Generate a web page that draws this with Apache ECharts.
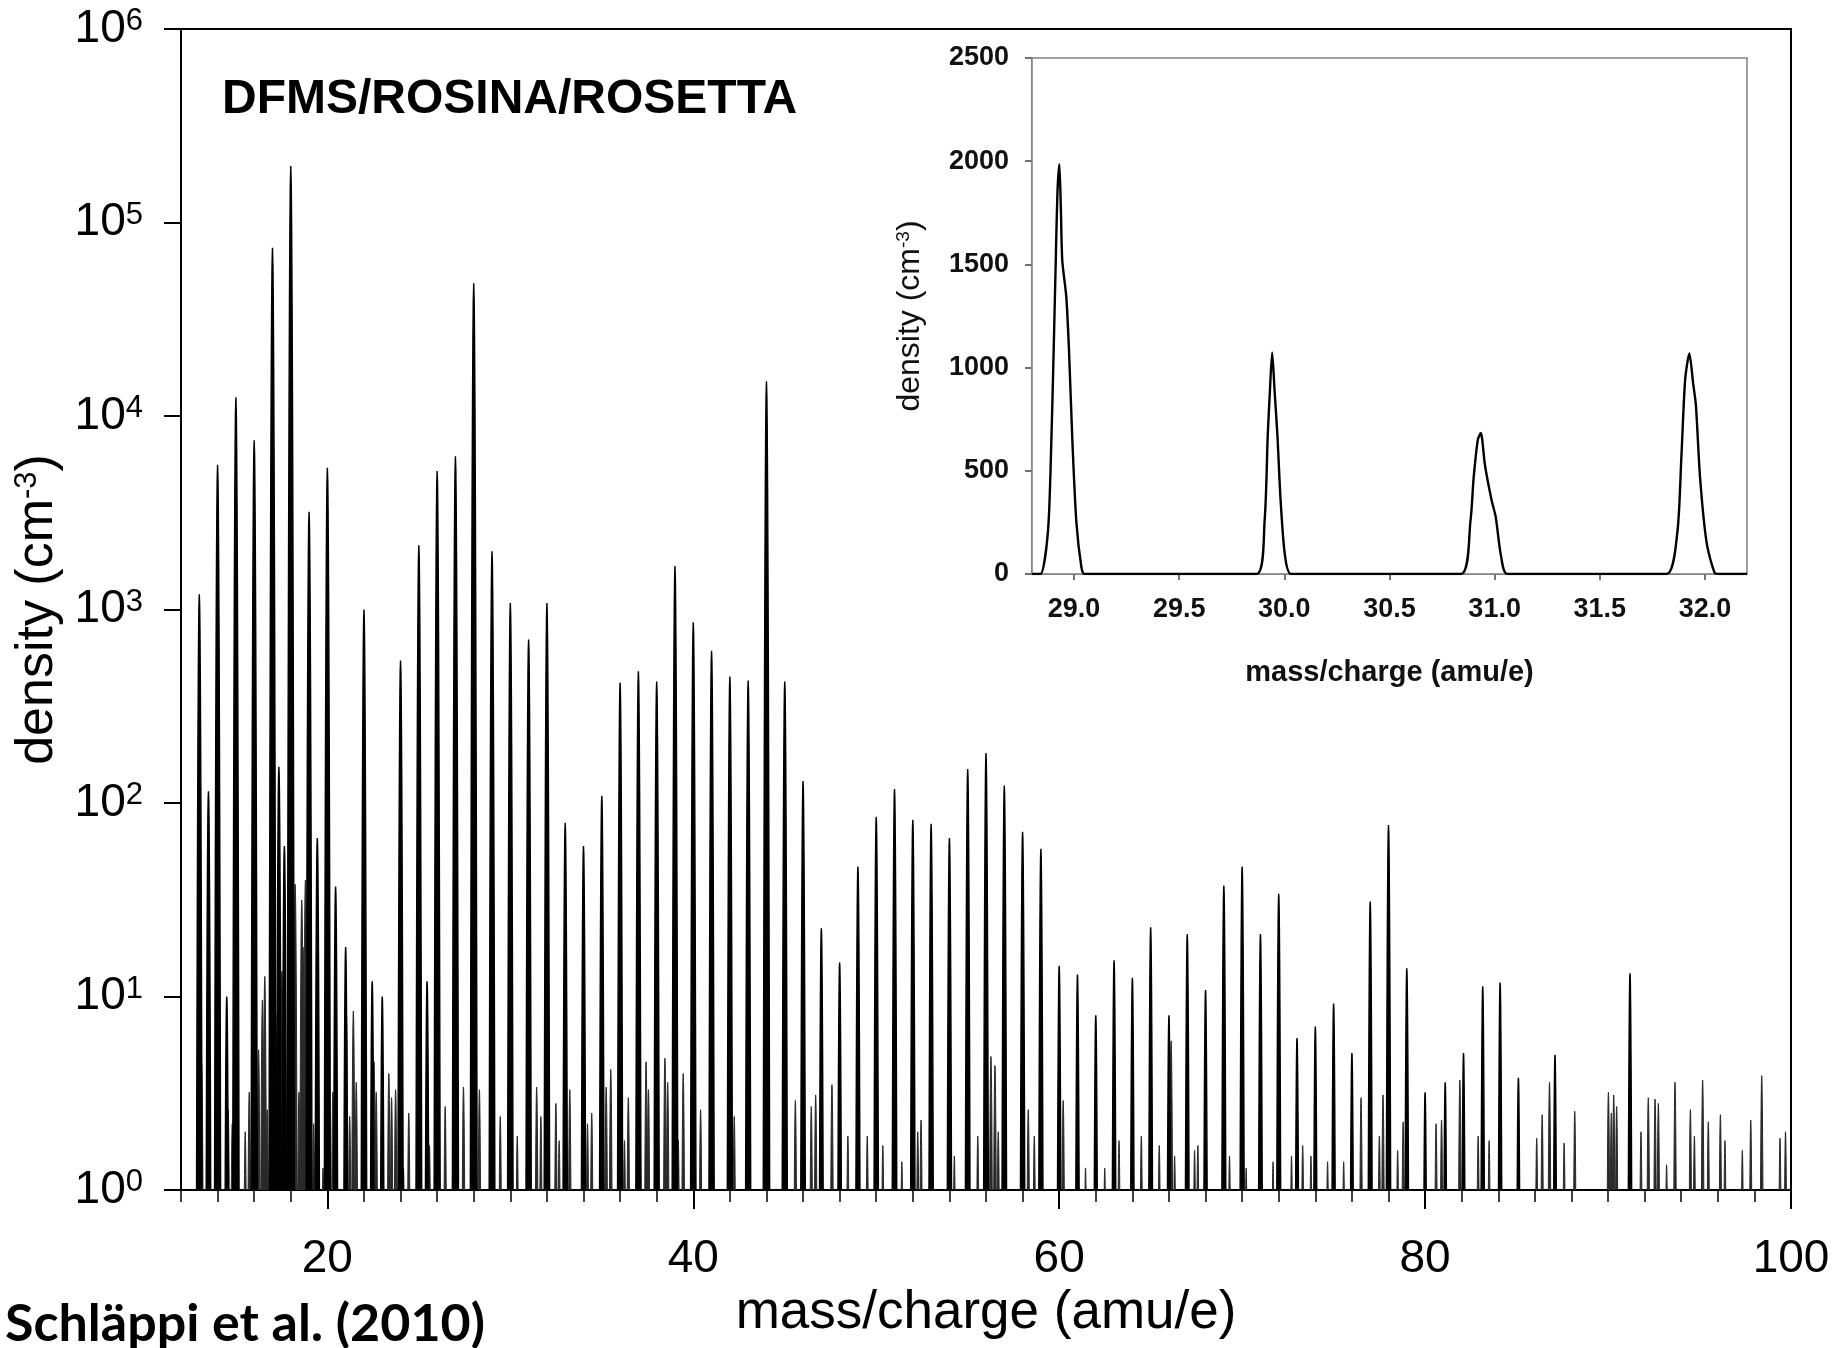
<!DOCTYPE html>
<html><head><meta charset="utf-8">
<script src="https://cdn.jsdelivr.net/npm/echarts@6/dist/echarts.min.js"></script>
<style>html,body{margin:0;padding:0;background:#fff}#c{width:1835px;height:1348px}</style>
</head><body><div id="c"></div>
<script>
// ---- main spectrum: principal peaks (mass/charge, density cm^-3) ----
const peakMass = [13, 13.5, 14, 14.5, 15, 16, 17, 17.35, 17.65, 18, 19, 19.45, 20, 20.45, 21, 22, 22.45, 23, 24, 25, 25.45, 26, 27, 28, 29, 30, 31, 32, 33, 34, 35, 36, 37, 38, 39, 40, 41, 42, 43, 44, 45, 46, 47, 48, 49, 50, 51, 52, 53, 54, 55, 56, 57, 58, 59, 60, 61, 62, 63, 64, 65, 66, 67, 68, 69, 70, 71, 72, 73, 74, 75, 76, 77, 78, 79, 80, 81.1, 82.1, 83.15, 84.1, 85.1, 87.1, 91.2];
const peakDensity = [1200, 115, 5600, 10, 12500, 7500, 74000, 154, 60, 196000, 3200, 66, 5400, 37, 18, 1000, 12, 10, 545, 2150, 12, 5200, 6200, 48500, 2000, 1080, 700, 1080, 79, 60, 109, 420, 480, 425, 1680, 860, 612, 450, 430, 15100, 425, 130, 22.5, 15, 47, 85, 118, 82, 78, 66, 150, 181, 123, 71, 58, 14.4, 13, 8, 15.4, 12.5, 22.8, 8, 21, 10.8, 37.5, 47, 21, 34, 6.1, 7.0, 9.2, 5.1, 31, 77, 14, 3.2, 3.6, 5.1, 11.3, 11.8, 3.8, 5.0, 13.2];

// ---- main spectrum: minor / background peaks ----
const minorMass = [13.13, 14.09, 14.58, 14.8, 15.51, 15.73, 16.09, 16.24, 16.45, 16.58, 16.71, 17.18, 17.52, 18.24, 18.45, 18.6, 18.67, 18.8, 19.25, 19.76, 20.3, 21.04, 21.22, 21.42, 21.58, 22.55, 22.67, 23.36, 23.51, 23.73, 24.16, 24.45, 25.58, 26.44, 27.44, 28.31, 29.45, 30.38, 31.44, 31.67, 32.49, 32.67, 33.25, 34.22, 34.45, 35.24, 35.49, 36.24, 36.45, 37.09, 37.42, 37.55, 38.45, 38.6, 39.18, 39.45, 40.4, 42.24, 45.58, 46.45, 46.69, 47.58, 48.45, 49.51, 50.36, 51.4, 52.27, 52.45, 54.27, 55.55, 56.27, 56.49, 56.67, 58.31, 58.64, 60.22, 61.44, 62.49, 63.27, 64.49, 65.47, 66.12, 66.31, 67.4, 67.58, 69.31, 70.22, 71.69, 72.7, 73.31, 73.76, 74.67, 75.55, 76.5, 77.5, 77.7, 78.5, 78.8, 80.6, 80.9, 81.9, 82.9, 83.5, 86.1, 86.4, 86.8, 87.6, 88.18, 90.02, 90.18, 90.31, 90.47, 91.8, 92.2, 92.57, 92.75, 93.2, 93.66, 94.5, 94.72, 95.17, 95.48, 96.14, 96.39, 97.34, 97.8, 98.4, 99.4, 99.7];
const minorDensity = [4.5, 2.5, 2.6, 2.2, 2.0, 3.2, 4.6, 5.3, 9.6, 12.7, 2.6, 8.2, 13.5, 38, 3.2, 31.5, 18, 40, 2.2, 1.3, 3.2, 8.2, 2.4, 8.4, 3.6, 4.6, 3.2, 4.0, 3.0, 3.3, 1.3, 2.5, 1.7, 2.7, 3.4, 3.3, 2.4, 1.9, 3.4, 2.4, 2.8, 1.8, 3.3, 2.2, 2.5, 3.4, 4.2, 1.8, 3.0, 1.9, 4.6, 3.3, 4.8, 3.6, 1.8, 4.0, 2.6, 2.4, 2.9, 2.7, 3.1, 3.5, 1.9, 1.9, 1.7, 1.4, 2.0, 2.3, 1.5, 1.9, 4.9, 4.4, 2.0, 2.6, 1.9, 2.9, 1.3, 1.3, 1.8, 1.9, 1.7, 5.9, 1.5, 1.6, 1.7, 1.5, 1.3, 1.4, 1.5, 1.7, 1.5, 1.4, 1.4, 3.0, 1.9, 3.1, 1.6, 2.25, 2.2, 2.3, 3.7, 1.9, 1.8, 1.85, 2.45, 3.6, 1.75, 2.55, 3.2, 2.5, 3.1, 2.7, 2.0, 3.0, 2.95, 2.8, 1.35, 3.6, 2.6, 1.9, 3.7, 2.25, 2.45, 1.8, 1.6, 2.3, 3.9, 1.85, 2.0];

// ---- inset: linear-scale scan 28.8 - 32.2 ----
const insetMass = [28.80, 28.84, 28.876, 28.892, 28.903, 28.913, 28.921, 28.930, 28.937, 28.944, 28.963, 28.976, 28.992, 29.011, 29.035, 29.05, 29.5, 29.868, 29.906, 29.921, 29.931, 29.942, 29.954, 29.967, 29.982, 30.003, 30.033, 30.5, 30.84, 30.885, 30.90, 30.92, 30.934, 30.954, 30.985, 31.005, 31.03, 31.06, 31.5, 31.817, 31.868, 31.888, 31.906, 31.926, 31.944, 31.957, 31.977, 32.008, 32.046, 32.07, 32.2];
const insetDensity = [0, 0, 208, 645, 1082, 1519, 1847, 1985, 1781, 1519, 1344, 1082, 645, 251, 33, 0, 0, 0, 256, 672, 880, 1074, 880, 672, 360, 90, 0, 0, 0, 256, 464, 651, 683, 527, 360, 277, 90, 0, 0, 0, 194, 568, 943, 1068, 922, 818, 464, 152, 6, 0, 0];

// ---- tick values ----
const mainXMajor = [20, 40, 60, 80, 100];
const insetXTicks = [29.0, 29.5, 30.0, 30.5, 31.0, 31.5, 32.0];

const FONT = '"Liberation Sans", Arial, Helvetica, sans-serif';
const SIGMA = 0.04; // drawn peak width (style)

function makePeakRenderer(color, lw) {
  return function (params, api) {
    const m = api.value(0), h = api.value(1);
    if (!(h > 1)) return null;
    const L = Math.log10(h);
    const fr = [0, 0.25, 0.45, 0.62, 0.76, 0.87, 0.94, 0.98, 1];
    const left = [], right = [];
    fr.forEach(function (t) {
      const lv = t * L;
      const hw = SIGMA * Math.sqrt(Math.max(0, 2 * Math.LN10 * (L - lv)));
      const v = Math.pow(10, lv);
      left.push(api.coord([m - hw, v]));
      right.unshift(api.coord([m + hw, v]));
    });
    const pts = left.concat(right.slice(1));
    return { type: 'polygon', shape: { points: pts }, style: { fill: color, stroke: color, lineWidth: lw } };
  };
}

const chart = echarts.init(document.getElementById('c'), null, { renderer: 'canvas' });
chart.setOption({
  backgroundColor: '#fff',
  animation: false,
  grid: [
    { left: 181, top: 29, width: 1610, height: 1161, show: true, borderColor: '#000', borderWidth: 2, backgroundColor: 'transparent' },
    { left: 1032, top: 58, width: 715, height: 516, show: true, borderColor: '#808080', borderWidth: 1.5, backgroundColor: '#fff', z: 5 }
  ],
  xAxis: [
    { type: 'value', gridIndex: 0, position: 'bottom', min: 12, max: 100, interval: 2,
      axisLine: { lineStyle: { color: '#000', width: 2 } },
      axisTick: { show: true, length: 12, lineStyle: { color: '#000', width: 1.5 } },
      axisLabel: { show: false }, splitLine: { show: false } },
    { type: 'value', gridIndex: 0, position: 'bottom', min: 12, max: 100,
      axisLine: { show: false },
      axisTick: { show: true, customValues: mainXMajor, length: 19, lineStyle: { color: '#000', width: 2 } },
      axisLabel: { show: true, customValues: mainXMajor, margin: 46, fontSize: 46, fontFamily: FONT, color: '#000' },
      splitLine: { show: false },
      name: 'mass/charge (amu/e)', nameLocation: 'middle', nameGap: 93,
      nameTextStyle: { fontSize: 53, fontFamily: FONT, color: '#000' } },
    { type: 'value', gridIndex: 1, position: 'bottom', min: 28.8, max: 32.2,
      axisLine: { lineStyle: { color: '#707070', width: 1.5 } },
      axisTick: { show: true, customValues: insetXTicks, length: 6, lineStyle: { color: '#444', width: 1.5 } },
      axisLabel: { show: true, customValues: insetXTicks, margin: 22, fontSize: 27, fontWeight: 'bold', fontFamily: FONT, color: '#111',
        formatter: function (v) { return Number(v).toFixed(1); } },
      splitLine: { show: false },
      name: 'mass/charge (amu/e)', nameLocation: 'middle', nameGap: 84,
      nameTextStyle: { fontSize: 29, fontWeight: 'bold', fontFamily: FONT, color: '#111' } }
  ],
  yAxis: [
    { type: 'log', logBase: 10, gridIndex: 0, min: 1, max: 1000000, splitNumber: 6,
      axisLine: { show: true, lineStyle: { color: '#000', width: 2 } },
      axisTick: { show: true, length: 17, lineStyle: { color: '#000', width: 2 } },
      minorTick: { show: false }, splitLine: { show: false },
      axisLabel: { margin: 38, color: '#000',
        formatter: function (v) { return '{b|10}{s|' + Math.round(Math.log10(v)) + '}'; },
        rich: { b: { fontSize: 46, fontFamily: FONT, color: '#000', verticalAlign: 'bottom' },
                s: { fontSize: 31, fontFamily: FONT, color: '#000', verticalAlign: 'top' } } },
      name: '{t|density (cm}{s|-3}{t|)}', nameLocation: 'middle', nameGap: 110,
      nameTextStyle: { rich: { t: { fontSize: 52, fontFamily: FONT, color: '#000', verticalAlign: 'bottom' },
                               s: { fontSize: 31, fontFamily: FONT, color: '#000', verticalAlign: 'top' } } } },
    { type: 'value', gridIndex: 1, min: 0, max: 2500, interval: 500,
      axisLine: { show: true, lineStyle: { color: '#707070', width: 1.5 } },
      axisTick: { show: true, length: 7, lineStyle: { color: '#444', width: 1.5 } },
      splitLine: { show: false },
      axisLabel: { margin: 23, fontSize: 27, fontWeight: 'bold', fontFamily: FONT, color: '#111',
        formatter: function (v) { return String(v); } },
      name: '{t|density (cm}{s|-3}{t|)}', nameLocation: 'middle', nameGap: 106,
      nameTextStyle: { rich: { t: { fontSize: 32, fontFamily: FONT, color: '#111', verticalAlign: 'bottom' },
                               s: { fontSize: 19, fontFamily: FONT, color: '#111', verticalAlign: 'top' } } } }
  ],
  series: [
    { type: 'custom', name: 'minor', xAxisIndex: 0, yAxisIndex: 0, clip: true,
      renderItem: makePeakRenderer('#2a2a2a', 1.0),
      data: minorMass.map(function (m, i) { return [m, minorDensity[i]]; }) },
    { type: 'custom', name: 'peaks', xAxisIndex: 0, yAxisIndex: 0, clip: true,
      renderItem: makePeakRenderer('#000', 1.4),
      data: peakMass.map(function (m, i) { return [m, peakDensity[i]]; }) },
    { type: 'line', name: 'inset', xAxisIndex: 2, yAxisIndex: 1, z: 6,
      showSymbol: false, symbol: 'none', smooth: 0.25,
      lineStyle: { color: '#000', width: 2.4 },
      data: insetMass.map(function (m, i) { return [m, insetDensity[i]]; }) }
  ],
  graphic: [
    { type: 'text', x: 222, y: 100, z: 10,
      style: { text: 'DFMS/ROSINA/ROSETTA', font: 'bold 48px ' + FONT, fill: '#000', verticalAlign: 'middle', textVerticalAlign: 'middle' } },
    { type: 'text', x: 5, y: 1324, z: 10,
      style: { text: 'Schläppi et al. (2010)', font: 'bold 52px Lato, "Open Sans", sans-serif', fill: '#000', verticalAlign: 'middle', textVerticalAlign: 'middle' } }
  ]
});
</script>
</body></html>
